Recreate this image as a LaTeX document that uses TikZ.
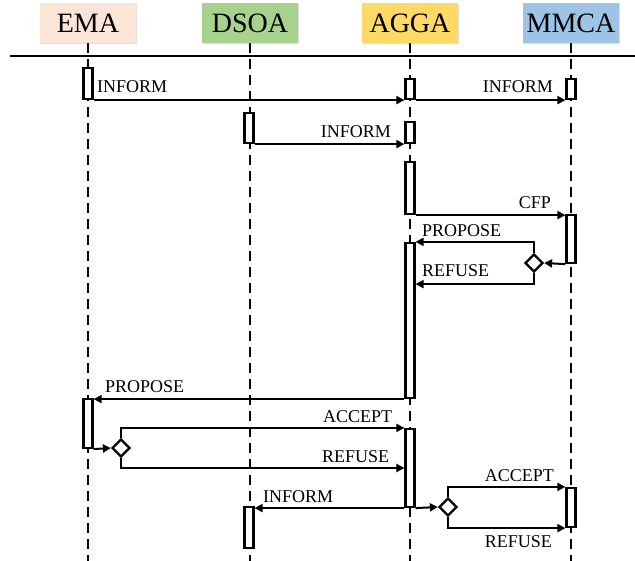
\documentclass[tikz,border=0pt]{standalone}
\usepackage{fontspec}
\setmainfont{Liberation Serif}
\usetikzlibrary{shapes.geometric,arrows.meta,shadows}
\definecolor{emapeach}{HTML}{FBE5D6}
\definecolor{dsoagreen}{HTML}{A9D18E}
\definecolor{aggagold}{HTML}{FFD966}
\definecolor{mmcablue}{HTML}{9DC3E6}
\tikzset{
  agenthead/.style={minimum width=96pt,minimum height=40pt,inner sep=0pt,font=\fontsize{28}{30}\selectfont,
    drop shadow={opacity=0.25,shadow xshift=1pt,shadow yshift=-1.5pt}},
  lifeline/.style={line width=2.6pt,dash pattern=on 10pt off 6pt},
  actbar/.style={draw,line width=2.2pt,fill=white,minimum width=9pt,inner sep=0pt},
  msg/.style={line width=2pt,-{Triangle[length=8pt,width=8pt]}},
  branch/.style={draw,diamond,line width=2.2pt,fill=white,minimum size=18pt,inner sep=0pt},
  msglabel/.style={inner sep=0pt,font=\fontsize{18}{20}\selectfont},
}

\begin{document}
\begin{tikzpicture}[x=1pt,y=-1pt]
  \useasboundingbox (0,0) rectangle (635,561);
  % agents and their lifelines
  \foreach \nm/\xx/\cc in {EMA/88/emapeach,DSOA/250/dsoagreen,AGGA/410/aggagold,MMCA/571/mmcablue}{
    \draw[lifeline] (\xx,43) -- (\xx,561);
    \node[agenthead,fill=\cc] (hd\nm) at (\xx,23) {\nm};
  }
  \draw[line width=1.3pt] (10,56) -- (635,56);
  % activation bars
  \node[actbar,minimum height=31pt] (ema1) at (88,83.5) {};
  \node[actbar,minimum height=20pt] (agga1) at (410,89) {};
  \node[actbar,minimum height=20pt] (mmca1) at (571,89) {};
  \node[actbar,minimum height=30pt] (dsoa1) at (249,128) {};
  \node[actbar,minimum height=21pt] (agga2) at (410,132.5) {};
  \node[actbar,minimum height=52pt] (agga3) at (410,188) {};
  \node[actbar,minimum height=48pt] (mmca2) at (571,239) {};
  \node[actbar,minimum height=155pt] (agga4) at (410,320.5) {};
  \node[actbar,minimum height=49pt] (ema2) at (88,423.5) {};
  \node[actbar,minimum height=78pt] (agga5) at (410,468) {};
  \node[actbar,minimum height=39pt] (mmca3) at (571,507.5) {};
  \node[actbar,minimum height=41pt] (dsoa2) at (249,527.5) {};
  % decision points
  \node[branch] (dec1) at (534,263) {};
  \node[branch] (dec2) at (121,448) {};
  \node[branch] (dec3) at (448,507) {};
  % messages
  \draw[msg] (ema1.south east) -- (ema1.south east -| agga1.west);
  \draw[msg] (agga1.south east) -- (mmca1.south west);
  \draw[msg] (dsoa1.south east) -- (dsoa1.south east -| agga2.west);
  \draw[msg] (agga3.south east) -- (agga3.south east -| mmca2.west);
  \draw[msg] (mmca2.south west) -- (dec1.east);
  \draw[msg] (dec1.north) |- (agga4.north east);
  \path (dec1.south) ++(0,11) coordinate (ref1);
  \draw[msg] (dec1.south) -- (ref1) -- (ref1 -| agga4.east);
  \draw[msg] (agga4.south west) -- (agga4.south west -| ema2.east);
  \draw[msg] (ema2.south east) -- (dec2.west);
  \draw[msg] (dec2.north) |- (agga5.north west);
  \draw[msg] (dec2.south) |- (agga5.west);
  \draw[msg] (agga5.south east) -- (dec3.west);
  \draw[msg] (agga5.south west) -- (agga5.south west -| dsoa2.east);
  \draw[msg] (dec3.north) |- (mmca3.north west);
  \draw[msg] (dec3.south) |- (mmca3.south west);
  % message labels
  \node[msglabel,anchor=base west] (lbInfA) at (97,93) {INFORM};
  \node[msglabel,anchor=base east] (lbInfB) at (553,93) {INFORM};
  \node[msglabel,anchor=base east] (lbInfC) at (391,138) {INFORM};
  \node[msglabel,anchor=base east] (lbCfp) at (551,209) {CFP};
  \node[msglabel,anchor=base west] (lbPropA) at (422,237) {PROPOSE};
  \node[msglabel,anchor=base west] (lbRefA) at (422,277) {REFUSE};
  \node[msglabel,anchor=base west] (lbPropB) at (105,392) {PROPOSE};
  \node[msglabel,anchor=base west] (lbAccA) at (323,422) {ACCEPT};
  \node[msglabel,anchor=base west] (lbRefB) at (322,462) {REFUSE};
  \node[msglabel,anchor=base west] (lbInfD) at (263,502) {INFORM};
  \node[msglabel,anchor=base east] (lbAccB) at (554,482) {ACCEPT};
  \node[msglabel,anchor=base east] (lbRefC) at (552,547) {REFUSE};
\end{tikzpicture}
\end{document}
